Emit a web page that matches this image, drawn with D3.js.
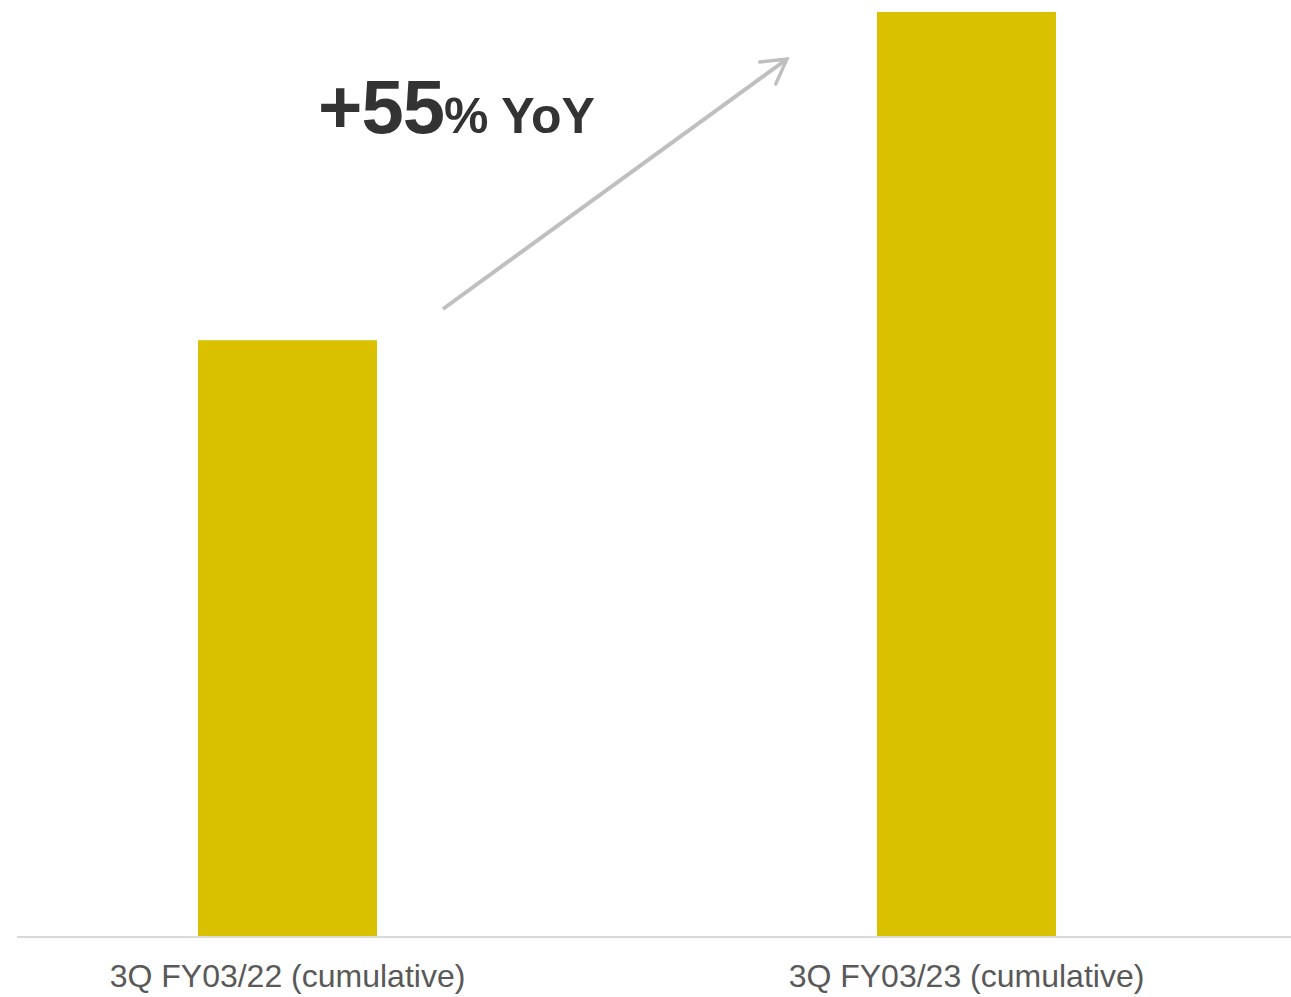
<!DOCTYPE html>
<html>
<head>
<meta charset="utf-8">
<script src="https://cdn.jsdelivr.net/npm/d3@7"></script>
<style>
  body { margin: 0; background: #fff; }
  svg { display: block; font-family: "Liberation Sans", Arial, sans-serif; }
</style>
</head>
<body>
<div id="chart"></div>
<script>
// Data (relative level, 3Q FY03/22 = 100)
const categories = ["3Q FY03/22 (cumulative)", "3Q FY03/23 (cumulative)"];
const values = [100, 155];
const growthBig = "+55";
const growthSmall = "% YoY";

const width = 1291;
const height = 997;
const baseY = 937;

const svg = d3.select("#chart")
  .append("svg")
  .attr("width", width)
  .attr("height", height);

// Scales
const x = d3.scaleBand()
  .domain(categories)
  .range([17, 1237])
  .paddingInner(0.7364)
  .paddingOuter(0.2666);

const y = d3.scaleLinear()
  .domain([0, 155])
  .range([baseY, 12]);

// Bars
svg.selectAll(".bar")
  .data(values)
  .enter()
  .append("rect")
  .attr("x", (d, i) => x(categories[i]))
  .attr("y", d => y(d))
  .attr("width", x.bandwidth())
  .attr("height", d => baseY - y(d))
  .attr("fill", "#d9c100");

// Baseline axis
const xAxis = svg.append("g")
  .attr("transform", `translate(0,${baseY})`)
  .call(d3.axisBottom(x).tickSize(0).tickPadding(27));

xAxis.select(".domain")
  .attr("d", `M17,0H${width}`)
  .attr("stroke", "#d9d9d9")
  .attr("stroke-width", 2);

xAxis.selectAll("text")
  .attr("font-family", "'Liberation Sans', Arial, sans-serif")
  .attr("font-size", 32)
  .attr("fill", "#595959");

// Growth arrow
const defs = svg.append("defs");
defs.append("marker")
  .attr("id", "head")
  .attr("viewBox", "0 0 10 10")
  .attr("refX", 8)
  .attr("refY", 5)
  .attr("markerWidth", 8.5)
  .attr("markerHeight", 8.5)
  .attr("markerUnits", "strokeWidth")
  .attr("orient", "auto")
  .append("path")
  .attr("d", "M1,1L8,5L1,9")
  .attr("fill", "none")
  .attr("stroke", "#bfbfbf")
  .attr("stroke-width", 1)
  .attr("stroke-linecap", "round");

svg.append("line")
  .attr("x1", 443)
  .attr("y1", 309)
  .attr("x2", 787)
  .attr("y2", 59)
  .attr("stroke", "#bfbfbf")
  .attr("stroke-width", 4)
  .attr("marker-end", "url(#head)");

// Growth label
const label = svg.append("text")
  .attr("x", 318)
  .attr("y", 133)
  .attr("fill", "#333333")
  .attr("font-weight", "bold");

label.append("tspan")
  .attr("font-size", 76)
  .attr("letter-spacing", -1)
  .text(growthBig);

label.append("tspan")
  .attr("font-size", 50)
  .text(growthSmall);
</script>
</body>
</html>
